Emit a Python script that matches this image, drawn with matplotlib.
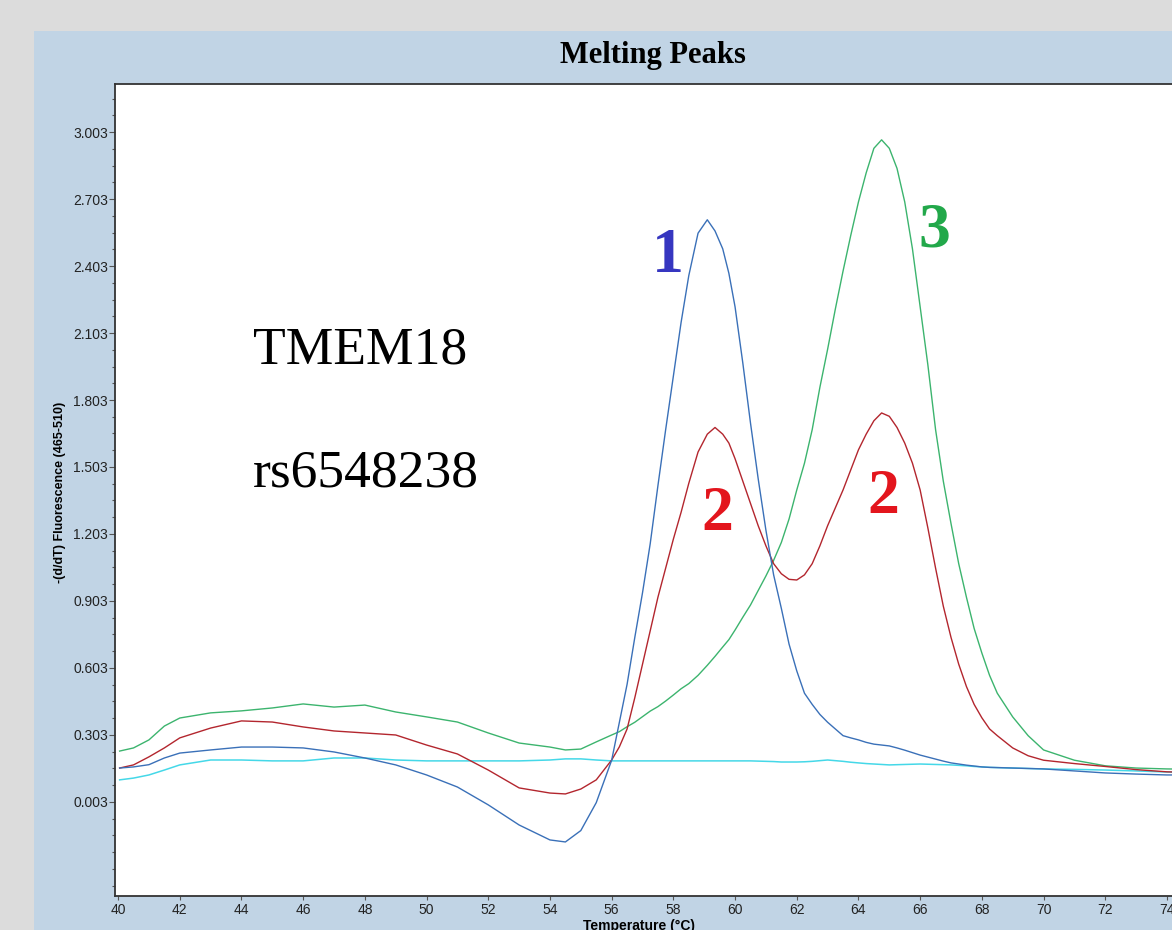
import numpy as np
import matplotlib
matplotlib.use("Agg")
import matplotlib.pyplot as plt
from matplotlib.ticker import FixedLocator, MultipleLocator, FormatStrFormatter

# temperature grid (°C) shared by all curves
temps = [40.05, 40.5, 41, 41.5, 42, 43, 44, 45, 46, 47, 48, 49, 50, 51, 52, 53, 54, 54.5, 55, 55.5,
         56, 56.25, 56.5, 56.75, 57, 57.25, 57.5, 57.75, 58, 58.25, 58.5,
         58.8, 59.1, 59.35, 59.6, 59.8,
         60, 60.25, 60.5, 60.75, 61, 61.25, 61.5, 61.75, 62, 62.25, 62.5, 62.75, 63, 63.25, 63.5, 63.75,
         64, 64.25, 64.5, 64.75, 65, 65.25, 65.5, 65.75, 66, 66.25, 66.5, 66.75, 67, 67.25, 67.5, 67.75,
         68, 68.25, 68.5,
         69, 69.5, 70, 71, 72, 73, 74, 74.6]

# curve 1 (blue)
curva_1 = [0.155, 0.160, 0.170, 0.200, 0.222, 0.236, 0.249, 0.249, 0.245, 0.227, 0.200, 0.169, 0.124, 0.070,
           -0.010, -0.100, -0.167, -0.176, -0.125, 0.000,
           0.19, 0.36, 0.53, 0.74, 0.94, 1.16, 1.42, 1.67, 1.91, 2.15, 2.36,
           2.55, 2.61, 2.56, 2.48, 2.37,
           2.22, 1.97, 1.70, 1.45, 1.22, 1.02, 0.87, 0.71, 0.59, 0.49, 0.44, 0.395, 0.36, 0.33, 0.30, 0.29,
           0.281, 0.27, 0.262, 0.258, 0.254, 0.245, 0.235, 0.224, 0.213, 0.204, 0.195, 0.186, 0.178, 0.173,
           0.168, 0.164, 0.160, 0.158, 0.157,
           0.155, 0.153, 0.151, 0.142, 0.133, 0.128, 0.124, 0.124]

# curve 2 (red)
curva_2 = [0.155, 0.169, 0.205, 0.245, 0.290, 0.334, 0.366, 0.361, 0.339, 0.321, 0.312, 0.303, 0.258, 0.218,
           0.146, 0.066, 0.043, 0.039, 0.061, 0.102,
           0.191, 0.25, 0.33, 0.47, 0.62, 0.77, 0.92, 1.05, 1.18, 1.30, 1.43,
           1.57, 1.65, 1.68, 1.65, 1.61,
           1.54, 1.44, 1.34, 1.24, 1.15, 1.07, 1.025, 1.00, 0.997, 1.02, 1.07, 1.15, 1.24, 1.32, 1.40, 1.49,
           1.58, 1.65, 1.71, 1.745, 1.73, 1.68, 1.61, 1.52, 1.40, 1.23, 1.05, 0.88, 0.74, 0.62, 0.52, 0.44,
           0.38, 0.33, 0.30,
           0.245, 0.210, 0.190, 0.175, 0.162, 0.148, 0.138, 0.136]

# curve 3 (green)
curva_3 = [0.231, 0.245, 0.281, 0.343, 0.379, 0.402, 0.411, 0.424, 0.442, 0.428, 0.437, 0.406, 0.384, 0.361,
           0.312, 0.267, 0.249, 0.236, 0.240, 0.272,
           0.303, 0.318, 0.34, 0.36, 0.385, 0.41, 0.43, 0.455, 0.482, 0.51, 0.533,
           0.57, 0.615, 0.655, 0.697, 0.73,
           0.773, 0.83, 0.885, 0.95, 1.015, 1.085, 1.165, 1.27, 1.40, 1.52, 1.67, 1.86, 2.03, 2.21, 2.38, 2.54,
           2.69, 2.82, 2.93, 2.968, 2.93, 2.84, 2.69, 2.48, 2.22, 1.96, 1.67, 1.44, 1.25, 1.07, 0.92, 0.78,
           0.67, 0.57, 0.49,
           0.384, 0.300, 0.236, 0.190, 0.165, 0.155, 0.151, 0.150]

# blank / control (cyan)
control = [0.102, 0.110, 0.124, 0.146, 0.169, 0.191, 0.191, 0.187, 0.187, 0.200, 0.200, 0.191, 0.187, 0.187,
           0.187, 0.187, 0.191, 0.196, 0.196, 0.191,
           0.187, 0.187, 0.187, 0.187, 0.187, 0.187, 0.187, 0.187, 0.187, 0.187, 0.187,
           0.187, 0.187, 0.187, 0.187, 0.187,
           0.187, 0.187, 0.187, 0.186, 0.185, 0.184, 0.182, 0.182, 0.182, 0.183, 0.185, 0.188, 0.191, 0.188,
           0.185, 0.181, 0.178, 0.175, 0.173, 0.171, 0.169, 0.170, 0.171, 0.172, 0.173, 0.172, 0.171, 0.170,
           0.169, 0.167, 0.165, 0.162, 0.160, 0.158, 0.157,
           0.155, 0.153, 0.151, 0.149, 0.146, 0.142, 0.137, 0.136]

y_ticks = [0.003, 0.303, 0.603, 0.903, 1.203, 1.503, 1.803, 2.103, 2.403, 2.703, 3.003]
x_ticks = list(range(40, 76, 2))

W, H = 1172, 930
fig = plt.figure(figsize=(W / 100, H / 100), dpi=100)
fig.patch.set_facecolor("#dcdcdc")

# panel azul claro detras del grafico
panel = fig.add_axes([34 / W, 0, 1 - 34 / W, 1 - 31 / H])
panel.set_facecolor("#c1d4e5")
panel.set_xticks([])
panel.set_yticks([])
for s in panel.spines.values():
    s.set_visible(False)

ax = fig.add_axes([115 / W, 1 - 896 / H, (1187 - 115) / W, (896 - 84) / H])
ax.set_facecolor("white")

ax.plot(temps, control, color="#45d8e8", lw=1.1)
ax.plot(temps, curva_3, color="#3cb46e", lw=1.0)
ax.plot(temps, curva_2, color="#b3262e", lw=1.0)
ax.plot(temps, curva_1, color="#3a70b8", lw=1.0)

ax.set_xlim(39.9, 74.65)
ax.set_ylim(-0.418, 3.218)

tick_font = ["Liberation Sans Narrow", "Liberation Sans"]
ax.yaxis.set_major_locator(FixedLocator(y_ticks))
ax.yaxis.set_major_formatter(FormatStrFormatter("%.3f"))
ax.yaxis.set_minor_locator(MultipleLocator(0.075, offset=0.003))
ax.xaxis.set_major_locator(FixedLocator(x_ticks))
ax.tick_params(axis="y", which="major", direction="out", length=4, width=0.8, color="#555555", pad=1,
               labelsize=10, labelcolor="#222222")
ax.tick_params(axis="y", which="minor", direction="out", length=2, width=0.8, color="#555555")
ax.tick_params(axis="x", which="major", direction="out", length=3, width=0.8, color="#555555", pad=2,
               labelsize=10, labelcolor="#222222")
for lab in ax.get_xticklabels() + ax.get_yticklabels():
    lab.set_family(tick_font)

for side in ["left", "top", "bottom"]:
    ax.spines[side].set_color("#333333")
    ax.spines[side].set_linewidth(1.3)
ax.spines["right"].set_visible(False)

fig.text(653 / W, 1 - 55 / H, "Melting Peaks", family="Liberation Serif", weight="bold",
         fontsize=22, ha="center", va="center")
fig.text(60 / W, 1 - 492 / H, "-(d/dT) Fluorescence (465-510)", family="Liberation Sans",
         weight="bold", fontsize=9, rotation=90, ha="center", va="center")
fig.text(639 / W, 1 - 919 / H, "Temperature (°C)", family="Liberation Sans", weight="bold",
         fontsize=10, ha="center", va="top")

ax.text(44.38, 2.049, "TMEM18", family="Liberation Serif", fontsize=38.5, ha="left",
        va="center_baseline")
ax.text(44.38, 1.499, "rs6548238", family="Liberation Serif", fontsize=38.5, ha="left",
        va="center_baseline")

num_font = dict(family="Liberation Serif", weight="bold", fontsize=46, ha="center",
                va="center_baseline")
ax.text(57.83, 2.475, "1", color="#3636c0", **num_font)
ax.text(66.45, 2.587, "3", color="#22a84a", **num_font)
ax.text(59.42, 1.320, "2", color="#e3151d", **num_font)
ax.text(64.80, 1.396, "2", color="#e3151d", **num_font)

fig.savefig("out.png", dpi=100)
